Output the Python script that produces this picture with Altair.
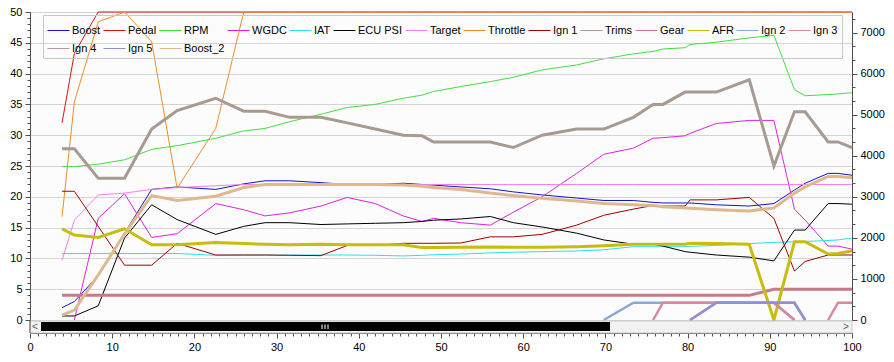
import altair as alt
import pandas as pd

N = None

X = [3.9, 5.4, 8.3, 11.5, 14.8,
     17.9, 22.6, 26.0, 28.6, 31.6,
     35.4, 38.6, 42.0, 45.4, 47.7,
     49.1, 52.4, 56.0, 58.8, 62.3,
     66.5, 69.8, 73.4, 75.8, 77.0,
     79.7, 80.3, 83.5, 87.5, 90.5,
     93.0, 94.3, 97.1, 98.3, 100.0]

BOOST = [2.0, 3.0, 7.2, 14.1, 21.2,
         21.6, 21.2, 22.1, 22.6, 22.6,
         22.3, 22.0, 22.0, 22.2, 22.0,
         21.9, 21.6, 21.3, 20.8, 20.3,
         19.8, 19.4, 19.4, 19.1, 19.0,
         19.0, 19.0, 18.7, 18.5, 18.9,
         21.1, 22.2, 23.8, 23.8, 23.5]

PEDAL = [32.0, 43.3, 50, 50, 50,
         50, 50, 50, 50, 50,
         50, 50, 50, 50, 50,
         50, 50, 50, 50, 50,
         50, 50, 50, 50, 50,
         50, 50, 50, 50, 50,
         50, 50, 50, 50, 50]

RPM = [3735, 3735, 3795, 3900, 4155,
       4245, 4425, 4605, 4665, 4830,
       5010, 5175, 5250, 5400, 5475,
       5565, 5685, 5805, 5910, 6090,
       6210, 6360, 6480, 6540, 6600,
       6630, 6710, 6765, 6870, 6930,
       5610, 5460, 5490, 5505, 5535]

WGDC = [N, 0.0, 16.5, 20.5, 13.4,
        14.0, 18.9, 17.9, 16.9, 17.4,
        18.5, 19.9, 18.9, 16.9, 16.0,
        16.5, 15.8, 15.4, 17.5, 20.0,
        23.8, 26.9, 27.9, 29.5, 29.6,
        29.9, 30.3, 31.9, 32.4, 32.4,
        18.0, 16.2, 12.0, 12.0, 11.5]

IAT = [10.8, 10.8, 10.8, 10.8, 10.8,
       10.8, 10.5, 10.55, 10.55, 10.55,
       10.55, 10.55, 10.5, 10.4, 10.5,
       10.6, 10.7, 10.9, 11.0, 11.1,
       11.2, 11.4, 11.9, 11.9, 11.9,
       11.9, 11.95, 12.1, 12.4, 12.6,
       12.7, 12.75, 12.9, 13.0, 13.3]

ECU_PSI = [0.65, 0.65, 2.3, 13.3, 18.7,
           16.3, 13.9, 15.2, 15.8, 15.8,
           15.5, 15.6, 15.7, 15.8, 16.0,
           16.2, 16.4, 16.8, 15.8, 15.1,
           14.1, 13.0, 12.3, 12.3, 12.0,
           11.1, 11.0, 10.55, 10.2, 9.6,
           14.6, 14.6, 18.9, 18.9, 18.8]

TARGET = [9.7, 16.2, 20.3, 20.6, 21.2,
          21.5, 21.8, 22.0, 22.0, 22.0,
          22.0, 22.0, 22.0, 22.0, 22.0,
          22.0, 22.0, 22.0, 22.0, 22.0,
          22.0, 22.0, 22.0, 22.0, 22.0,
          22.0, 22.0, 22.0, 22.0, 22.0,
          22.0, 22.0, 22.0, 22.0, 22.0]

THROTTLE = [16.8, 35.4, 48.4, 50, 45.2,
            21.4, 31.1, 50, 50, 50,
            50, 50, 50, 50, 50,
            50, 50, 50, 50, 50,
            50, 50, 50, 50, 50,
            50, 50, 50, 50, 50,
            50, 50, 50, 50, 50]

IGN1 = [20.9, 20.9, 15.2, 8.9, 8.9,
        12.45, 10.55, 10.55, 10.55, 10.5,
        10.45, 12.1, 12.1, 12.45, 12.45,
        12.45, 12.5, 13.5, 13.5, 13.9,
        15.4, 17.0, 18.0, 18.6, 18.5,
        18.5, 19.5, 19.5, 19.9, 16.5,
        7.95, 9.5, 10.55, 10.55, 10.55]

TRIMS = [27.8, 27.8, 23.0, 23.0, 31.0,
         34.0, 36.0, 33.9, 33.9, 32.9,
         32.9, 32.0, 31.0, 30.0, 29.9,
         28.9, 28.9, 28.9, 28.0, 30.0,
         31.0, 31.0, 32.9, 35.0, 35.0,
         37.0, 37.0, 37.0, 39.0, 25.0,
         33.8, 33.8, 28.9, 28.9, 28.0]

GEAR = [4, 4, 4, 4, 4,
        4, 4, 4, 4, 4,
        4, 4, 4, 4, 4,
        4, 4, 4, 4, 4,
        4, 4, 4, 4, 4,
        4, 4, 4, 4, 5,
        5, 5, 5, 5, 5]

AFR = [14.8, 13.8, 13.4, 14.8, 12.2,
       12.2, 12.6, 12.4, 12.3, 12.2,
       12.3, 12.2, 12.2, 12.2, 11.75,
       11.75, 11.8, 11.85, 11.8, 11.8,
       11.9, 12.05, 12.3, 12.3, 12.3,
       12.3, 12.45, 12.4, 12.3, 0.0,
       12.7, 12.7, 10.7, 10.8, 11.25]

IGN2 = [N, N, N, N, N,
        N, N, N, N, N,
        N, N, N, N, N,
        N, N, N, N, N,
        N, 0.0, 2.8, 2.8, 2.8,
        2.8, 2.8, 2.8, 2.8, 2.8,
        0.0, N, N, N, N]

IGN3 = [N, N, N, N, N,
        N, N, N, N, N,
        N, N, N, N, N,
        N, N, N, N, N,
        N, N, N, 0.0, 2.8,
        2.8, 2.8, 2.8, 2.8, 2.8,
        0.0, N, 0.0, 2.8, 2.8]

IGN4 = [N, N, N, N, N,
        N, N, N, N, N,
        N, N, N, N, N,
        N, N, N, N, N,
        N, N, N, N, N,
        N, 0.0, 2.8, 2.8, 2.8,
        2.8, 0.0, N, N, N]

IGN5 = [N, N, N, N, N,
        N, N, N, N, N,
        N, N, N, N, N,
        N, N, N, N, N,
        N, N, N, N, N,
        N, 0.0, 2.8, 2.8, 2.8,
        2.8, 0.0, N, N, N]

BOOST2 = [0.8, 1.6, 7.3, 14.0, 20.2,
          19.4, 20.1, 21.5, 22.0, 22.0,
          22.0, 22.0, 22.0, 21.9, 21.7,
          21.5, 21.2, 20.6, 20.2, 19.75,
          19.3, 18.9, 18.7, 18.6, 18.4,
          18.2, 18.15, 17.9, 17.7, 18.2,
          20.6, 21.6, 23.3, 23.3, 23.1]

NAMES = ["Boost", "Pedal", "RPM", "WGDC", "IAT", "ECU PSI", "Target", "Throttle",
         "Ign 1", "Trims", "Gear", "AFR", "Ign 2", "Ign 3", "Ign 4", "Ign 5", "Boost_2"]
COLORS = ["#1414C8", "#E01010", "#40E040", "#E020E0", "#30E0E8", "#000000", "#F080F0",
          "#F08C28", "#A00000", "#A89A90", "#C87888", "#C8BC10", "#88A8D8", "#D88898",
          "#B098B0", "#9090D8", "#E0B890"]
WIDTHS = [1, 1, 1, 1, 1, 1, 1, 1, 1, 3, 3, 3, 2.5, 2.5, 2.5, 2.5, 3]

SERIES = {"Boost": BOOST, "Pedal": PEDAL, "RPM": RPM, "WGDC": WGDC, "IAT": IAT,
          "ECU PSI": ECU_PSI, "Target": TARGET, "Throttle": THROTTLE, "Ign 1": IGN1,
          "Trims": TRIMS, "Gear": GEAR, "AFR": AFR, "Ign 2": IGN2, "Ign 3": IGN3,
          "Ign 4": IGN4, "Ign 5": IGN5, "Boost_2": BOOST2}


def long_rows(names):
    rows = []
    for name in names:
        seg = 0
        w = WIDTHS[NAMES.index(name)]
        for x, v in zip(X, SERIES[name]):
            if v is None:
                seg += 1
                continue
            rows.append({"x": x, "value": v, "series": name, "seg": seg, "w": w})
    return pd.DataFrame(rows)


left_df = long_rows([n for n in NAMES if n != "RPM"])
rpm_df = long_rows(["RPM"])

FONT = "Liberation Sans"
AXC = "#505050"

color_scale = alt.Scale(domain=NAMES, range=COLORS)
legend = alt.Legend(title=None, orient="none", legendX=13, legendY=3,
                    direction="horizontal", columns=14, gridAlign="none",
                    symbolType="stroke", symbolSize=484, symbolStrokeWidth=1,
                    labelFont=FONT, labelFontSize=11, labelColor="#000000",
                    labelOffset=2, columnPadding=0, rowPadding=1, padding=4,
                    strokeColor="#C8C8C8")

x_enc = alt.X("x:Q", scale=alt.Scale(domain=[0, 100], nice=False),
              axis=alt.Axis(title=None, values=list(range(0, 101)), offset=13,
                            labelExpr="datum.value % 10 === 0 ? datum.label : ''",
                            tickSize={"condition": {"test": "datum.value % 10 === 0", "value": 5}, "value": 3},
                            grid=False, domainColor=AXC, tickColor=AXC,
                            labelFont=FONT, labelFontSize=11, labelColor="#000000",
                            labelPadding=3, labelFlush=False, labelOverlap=False))

left_axis = alt.Axis(title=None, orient="left", values=list(range(0, 51)),
                     labelExpr="datum.value % 5 === 0 ? datum.label : ''",
                     tickSize={"condition": {"test": "datum.value % 5 === 0", "value": 5}, "value": 3},
                     grid=True, gridColor="#D4D4D4",
                     gridOpacity={"condition": {"test": "datum.value % 5 === 0", "value": 1}, "value": 0},
                     domainColor=AXC, tickColor=AXC, labelFont=FONT, labelFontSize=11,
                     labelColor="#000000", labelPadding=3, labelFlush=False, labelOverlap=False)

right_vals = [round(k * 1000 / 3, 3) for k in range(23)]
right_axis = alt.Axis(title=None, orient="right", values=right_vals, format="d",
                      labelExpr="round(datum.value) % 1000 === 0 ? datum.label : ''",
                      tickSize={"condition": {"test": "round(datum.value) % 1000 === 0", "value": 5}, "value": 3},
                      grid=False, domainColor=AXC, tickColor=AXC, labelFont=FONT,
                      labelFontSize=11, labelColor="#000000", labelPadding=3,
                      labelFlush=False, labelOverlap=False)

rpm_layer = alt.Chart(rpm_df).mark_line().encode(
    x=x_enc,
    y=alt.Y("value:Q", scale=alt.Scale(domain=[0, 7500], nice=False), axis=right_axis),
    color=alt.Color("series:N", scale=color_scale, legend=legend),
    strokeWidth=alt.StrokeWidth("w:Q", scale=None),
    detail="seg:N",
)

left_layer = alt.Chart(left_df).mark_line().encode(
    x=x_enc,
    y=alt.Y("value:Q", scale=alt.Scale(domain=[0, 50], nice=False), axis=left_axis),
    color=alt.Color("series:N", scale=color_scale, legend=legend),
    strokeWidth=alt.StrokeWidth("w:Q", scale=None),
    detail="seg:N",
)

# window chrome: horizontal scrollbar beneath the plot
one = pd.DataFrame({"k": [0]})
sb_track = alt.Chart(one).mark_rect(fill="#F2F2F2", stroke="#C8C8C8", strokeWidth=1).encode(
    x=alt.value(0), x2=alt.value(822), y=alt.value(309), y2=alt.value(321))
sb_thumb = alt.Chart(one).mark_rect(fill="#000000").encode(
    x=alt.value(11), x2=alt.value(580), y=alt.value(310), y2=alt.value(319))
grip_df = pd.DataFrame({"g": [292, 295, 298]})
sb_grip = alt.Chart(grip_df).mark_rule(stroke="#FFFFFF", strokeWidth=1).encode(
    x=alt.X("g:Q", scale=None), y=alt.value(312.5), y2=alt.value(317))
sb_left = alt.Chart(one).mark_text(text="<", fill="#606060", fontSize=10, font=FONT).encode(
    x=alt.value(5), y=alt.value(315))
sb_right = alt.Chart(one).mark_text(text=">", fill="#606060", fontSize=10, font=FONT).encode(
    x=alt.value(816), y=alt.value(315))
left_ext = alt.Chart(one).mark_rule(color=AXC).encode(
    x=alt.value(0), y=alt.value(308), y2=alt.value(321))

chart = alt.layer(rpm_layer, left_layer, sb_track, sb_thumb, sb_grip, sb_left, sb_right, left_ext).resolve_scale(
    y="independent"
).properties(
    width=822, height=308,
    autosize=alt.AutoSizeParams(type="none"),
    padding={"left": 22, "top": 4, "right": 34, "bottom": 34},
).configure(font=FONT).configure_view(stroke="#A0A0A0", fill="#FCFCFC")

chart.save("out.html", embed_options={"renderer": "svg", "actions": False})
